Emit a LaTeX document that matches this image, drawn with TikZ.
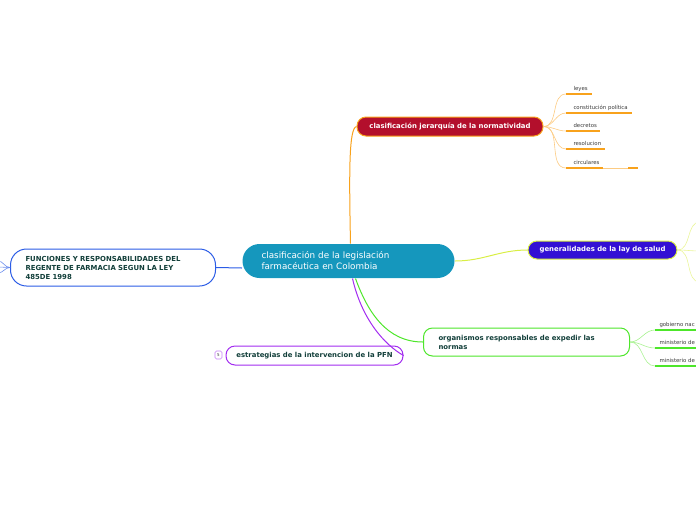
\documentclass[tikz,border=0pt]{standalone}
\usepackage{fontspec}
\setmainfont{DejaVu Sans}
\usetikzlibrary{calc}
\definecolor{cteal}{HTML}{1597BD}
\definecolor{cred}{HTML}{B30F2C}
\definecolor{corange}{HTML}{F8A21C}
\definecolor{corangel}{HTML}{FCCB82}
\definecolor{cviolet}{HTML}{3310D4}
\definecolor{cyellow}{HTML}{D9EE45}
\definecolor{cyellowl}{HTML}{EAF59A}
\definecolor{cgreen}{HTML}{4DE62A}
\definecolor{cgreenl}{HTML}{A8F290}
\definecolor{cpurple}{HTML}{A22CF0}
\definecolor{cblue}{HTML}{2B5CE6}
\definecolor{cdark}{HTML}{123F3A}
\definecolor{cgrey}{HTML}{3A3A3A}
\tikzset{
  every picture/.style={x=1pt, y=-1pt, line width=1pt},
  topic/.style={draw=#1, rounded corners=9pt, line width=1pt, inner sep=0pt, font=\fontsize{6.9}{9}\selectfont\bfseries},
  leaf/.style={anchor=base west, inner sep=0pt, text=cgrey, font=\fontsize{5.4}{6}\selectfont},
  link/.style={draw=#1, line width=1pt},
  twig/.style={draw=#1, line width=0.6pt},
}
\begin{document}
\begin{tikzpicture}
  \useasboundingbox (0,0) rectangle (696,520);
  \clip (0,0) rectangle (696,520);
  % central idea
  \node[fill=cteal, rounded corners=17pt, anchor=west, minimum height=34, text width=174, inner xsep=19, inner ysep=0pt, align=left, text=white, font=\fontsize{8.8}{11}\selectfont] (cen) at (242,261) {clasificación de la legislación\\farmacéutica en Colombia};
  % main topics
  \node[topic=corange, fill=cred, text=white, minimum width=186, minimum height=19] (jer) at (450,126.5) {clasificación jerarquía de la normatividad};
  \node[topic=cyellow, fill=cviolet, text=white, minimum width=149, minimum height=18] (gen) at (602.5,250) {generalidades de la lay de salud};
  \node[topic=cgreen, fill=white, text=cdark, anchor=west, text width=176, inner xsep=15, minimum height=28, align=left] (org) at (423,342) {organismos responsables de expedir las\\normas};
  \node[topic=cpurple, fill=white, text=cdark, minimum width=177, minimum height=19] (pfn) at (314.5,355.5) {estrategias de la intervencion de la PFN};
  \node[topic=cblue, fill=white, text=cdark, anchor=west, text width=175, inner xsep=15, minimum height=37, align=left, rounded corners=16pt] (fun) at (10,267.5) {FUNCIONES Y RESPONSABILIDADES DEL\\REGENTE DE FARMACIA SEGUN LA LEY\\485DE 1998};
  \node[draw=cpurple!60, rounded corners=1.5pt, line width=0.6pt, minimum width=7, minimum height=8, inner sep=0pt, text=cgrey, font=\fontsize{4}{4}\selectfont] (n5) at (218.5,355) {5};
  % links from the centre
  \draw[link=corange] ($(cen.north)+(2,0)$) .. controls (349,170) and (349,128) .. (jer.west);
  \draw[link=cyellow] (cen.east) to[out=0, in=180] (gen.west);
  \draw[link=cgreen] ($(cen.south)+(7,0)$) to[out=-70, in=180] (org.west);
  \draw[link=cpurple] ($(cen.south)+(4,0)$) .. controls (362,320) and (385,345) .. (pfn.east);
  \draw[link=cblue] ($(cen.west)+(0,7)$) -- (fun.east);
  % leaves of the hierarchy
  \foreach \i/\y/\e/\t in {1/94/592/leyes, 2/113/632/constitución política, 3/131/600/decretos, 4/149/605/resolucion, 5/168/603/circulares} {
    \coordinate (ja\i) at (566,\y);
    \coordinate (jb\i) at (\e,\y);
    \node[leaf] (jl\i) at (573,\y-3.5) {\t};
    \draw[twig=corangel] (jer.east) to[out=0, in=180] (ja\i);
    \draw[draw=corange, line width=1.5pt] (ja\i) -- (jb\i);
  }
  \coordinate (jc5) at (628,168);
  \coordinate (jd5) at (638,168);
  \draw[twig=corangel] (jb5) -- (jc5);
  \draw[draw=corange, line width=1.5pt] (jc5) -- (jd5);
  % leaves of the health law
  \foreach \i/\y in {1/222, 2/251, 3/282} {
    \coordinate (ga\i) at (700,\y);
    \draw[twig=cyellowl] (gen.east) to[out=0, in=180] (ga\i);
  }
  % leaves of the organisms
  \foreach \i/\y/\t in {1/330/gobierno nac, 2/348/ministerio de, 3/366/ministerio de} {
    \coordinate (oa\i) at (655,\y);
    \coordinate (ob\i) at (700,\y);
    \node[leaf] (ol\i) at (659,\y-3.5) {\t};
    \draw[twig=cgreenl] (org.east) to[out=0, in=180] (oa\i);
    \draw[draw=cgreen, line width=1.5pt] (oa\i) -- (ob\i);
  }
  % leaves of the functions
  \foreach \i/\y in {1/261, 2/267, 3/273} {
    \coordinate (fa\i) at (-2,\y);
    \draw[twig=cblue!70] (fun.west) to[out=180, in=0] (fa\i);
  }
\end{tikzpicture}
\end{document}
